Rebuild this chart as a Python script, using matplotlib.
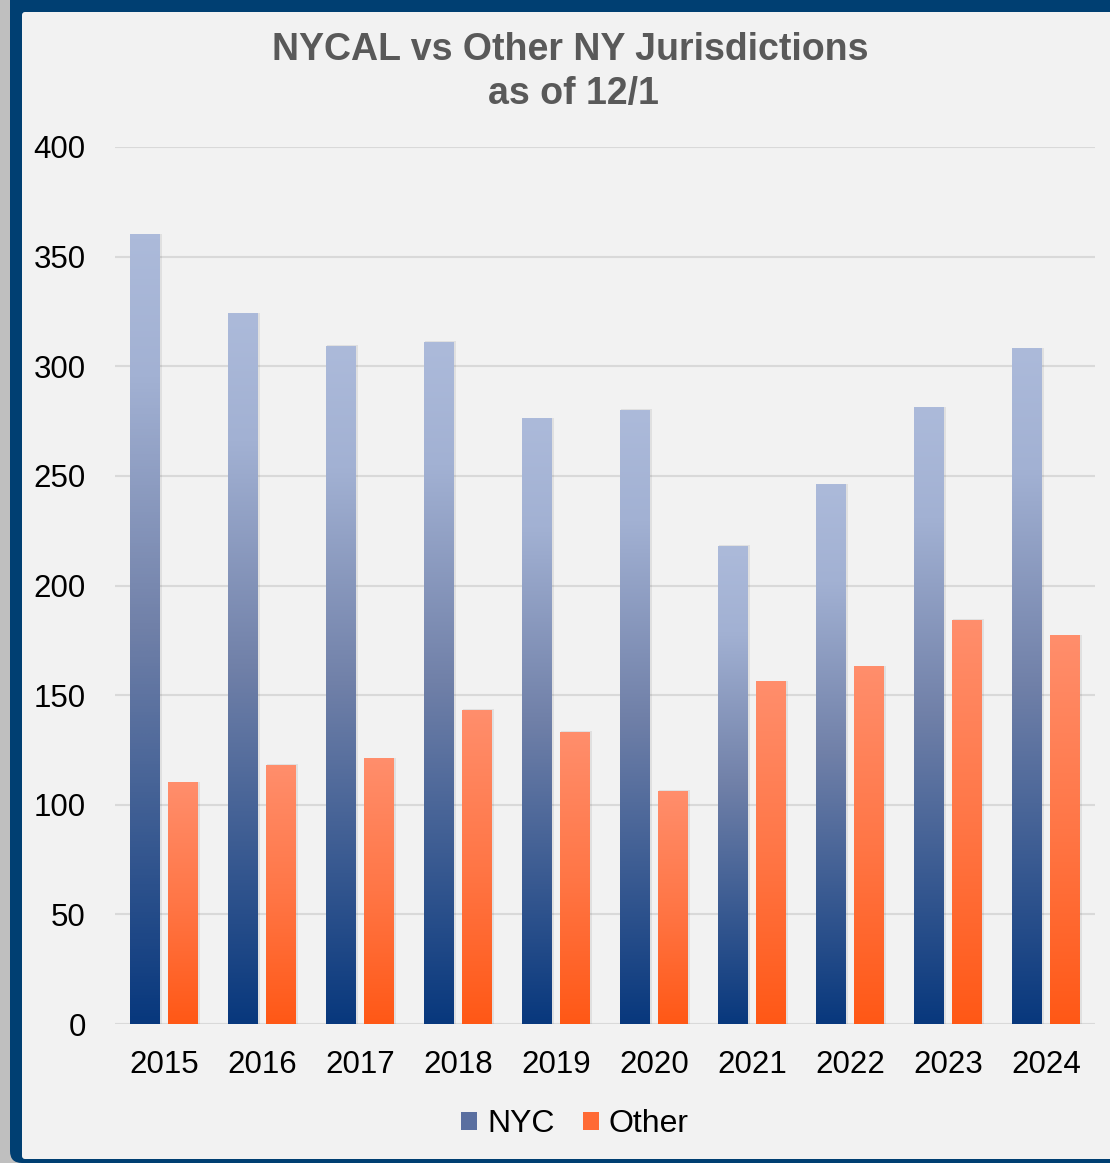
import numpy as np
import matplotlib
matplotlib.use("Agg")
import matplotlib.pyplot as plt
from matplotlib.patches import FancyBboxPatch, Rectangle, Patch
from matplotlib.transforms import IdentityTransform
from matplotlib.colors import LinearSegmentedColormap

years = ["2015", "2016", "2017", "2018", "2019", "2020", "2021", "2022", "2023", "2024"]
nyc = [360, 324, 309, 311, 276, 280, 218, 246, 281, 308]
other = [110, 118, 121, 143, 133, 106, 156, 163, 184, 177]
series_names = ["NYC", "Other"]
yticks = [0, 50, 100, 150, 200, 250, 300, 350, 400]

plt.rcParams['font.family'] = ['Liberation Sans', 'DejaVu Sans']

W, H = 1110, 1163
fig = plt.figure(figsize=(W / 100, H / 100), dpi=100)
fig.patch.set_facecolor("#BFBFBF")

# frame
blue = FancyBboxPatch((10, 0), 1130, 1163 + 20, boxstyle="round,pad=0,rounding_size=12",
                      transform=IdentityTransform(), facecolor="#003F72", edgecolor="none",
                      zorder=-3)
inner = FancyBboxPatch((22, 4), 1130, 1163 - 12 - 4, boxstyle="round,pad=0,rounding_size=3",
                       transform=IdentityTransform(), facecolor="#F2F2F2", edgecolor="none",
                       zorder=-2)
fig.patches.extend([blue, inner])

ax = fig.add_axes([115 / W, 1 - 1024 / H, 980 / W, 877 / H])
ax.set_facecolor("none")
ax.set_xlim(-0.5, len(years) - 0.5)
ax.set_ylim(0, 400)

nyc_cmap = LinearSegmentedColormap.from_list(
    "nyc", [(0.0, (8/255, 56/255, 125/255)), (0.5, (112/255, 128/255, 168/255)),
            (0.82, (162/255, 177/255, 211/255)), (1.0, (172/255, 186/255, 218/255))])
oth_cmap = LinearSegmentedColormap.from_list(
    "oth", [(0.0, (255/255, 88/255, 22/255)), (0.5, (255/255, 118/255, 70/255)),
            (1.0, (255/255, 142/255, 108/255))])

bw = 0.306
off = 0.194
grad = np.linspace(1, 0, 256).reshape(-1, 1)

x = np.arange(len(years))
for vals, cmap, sgn in [(nyc, nyc_cmap, -1), (other, oth_cmap, 1)]:
    for xi, v in zip(x, vals):
        cx = xi + sgn * off
        x0, x1 = cx - bw / 2, cx + bw / 2
        # soft shadow
        ax.add_patch(Rectangle((x0 + 0.008, 0), bw + 0.008, v + 0.5, facecolor="black",
                               alpha=0.07, edgecolor="none", zorder=2.5))
        ax.imshow(grad, extent=[x0, x1, 0, v], aspect="auto", cmap=cmap,
                  vmin=0, vmax=1, interpolation="bilinear", zorder=3)

ax.set_xlim(-0.5, len(years) - 0.5)
ax.set_ylim(0, 400)
ax.set_yticks(yticks)
ax.set_xticks(x)
ax.set_xticklabels(years)
ax.grid(axis="y", color="#D9D9D9", linewidth=1.5, zorder=0)
ax.set_axisbelow(True)
for s in ax.spines.values():
    s.set_visible(False)
ax.tick_params(axis="both", length=0, labelsize=22.5, colors="black")
ax.tick_params(axis="y", pad=21)
ax.tick_params(axis="x", pad=18.5)

fig.text(570 / W, 1 - 50 / H, "NYCAL vs Other NY Jurisdictions", ha="center", va="center",
         fontsize=27, fontweight="bold", color="#595959")
fig.text(573 / W, 1 - 94 / H, "as of 12/1", ha="center", va="center",
         fontsize=27, fontweight="bold", color="#595959")

handles = [Patch(facecolor="#5A6FA0", edgecolor="none", label=series_names[0]),
           Patch(facecolor="#FF6A35", edgecolor="none", label=series_names[1])]
fig.legend(handles=handles, loc="center", bbox_to_anchor=(575 / W, 1 - 1124 / H),
           ncol=2, frameon=False, fontsize=23, handlelength=0.5, handleheight=0.5,
           handletextpad=0.3, columnspacing=0.9)

fig.savefig("out.png", dpi=100, facecolor=fig.get_facecolor())
